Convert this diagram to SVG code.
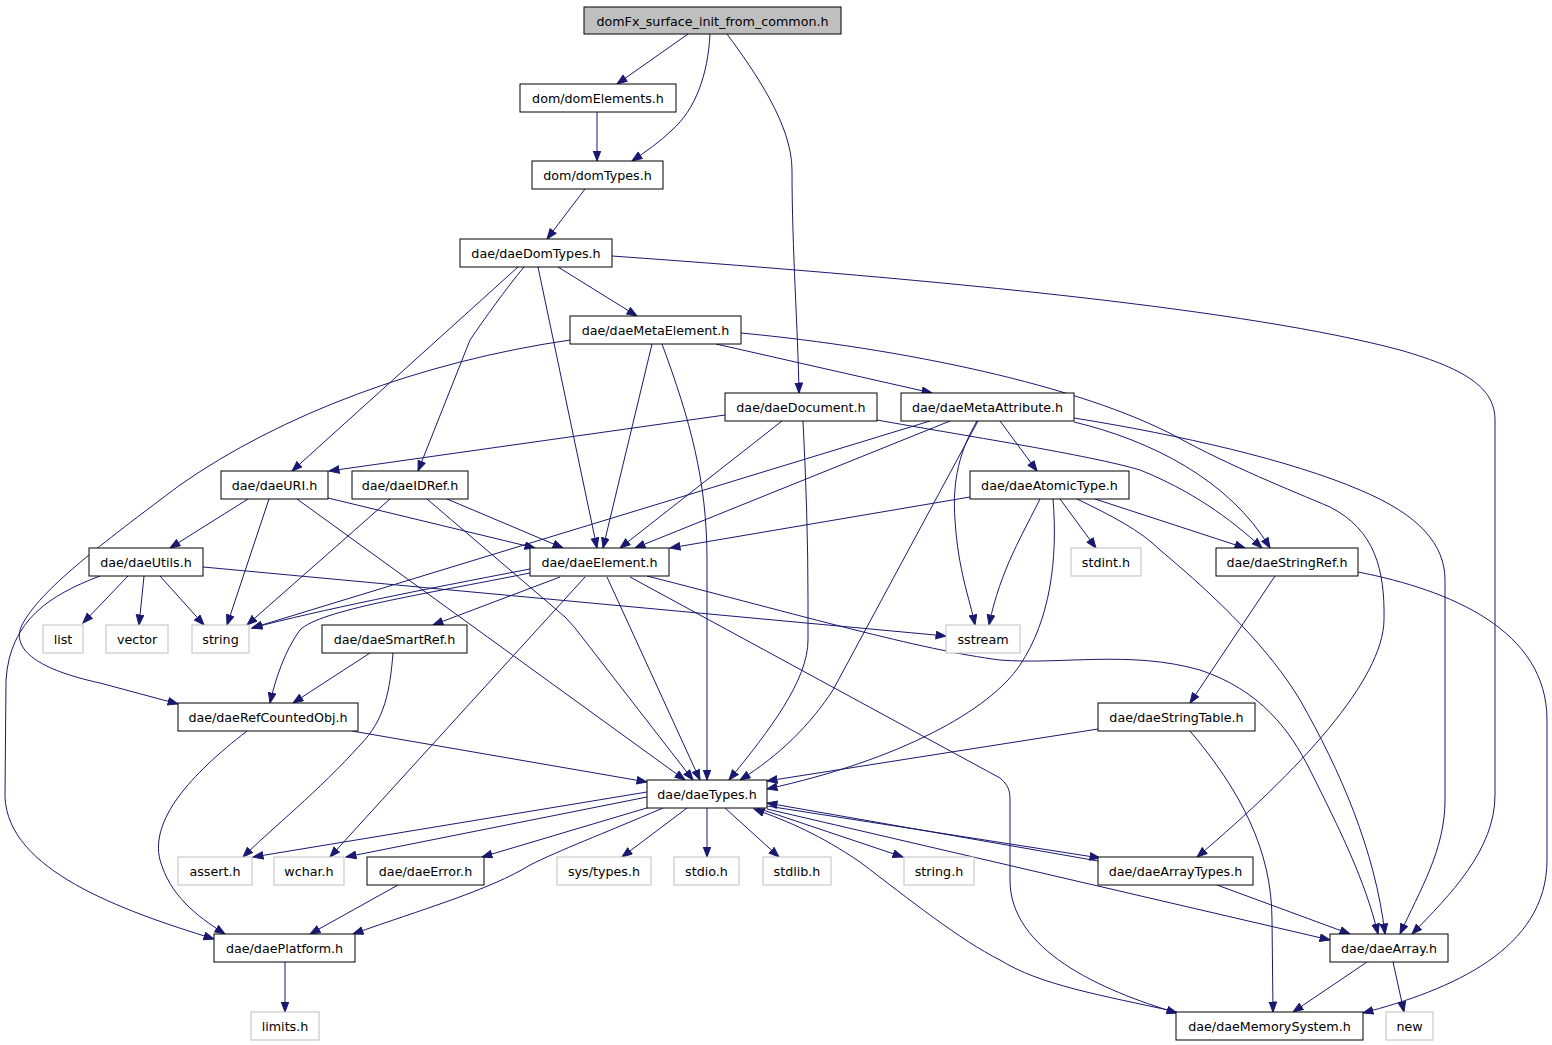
<svg xmlns="http://www.w3.org/2000/svg" width="1552" height="1045" viewBox="0 0 1552 1045">
<defs>
<marker id="a" markerUnits="userSpaceOnUse" markerWidth="12" markerHeight="10" refX="10.5" refY="4.25" orient="auto">
<path d="M0.5,0.5 L10.5,4.25 L0.5,8 z" fill="#191970" stroke="#191970" stroke-width="1"/>
</marker>
</defs>
<style>
.n rect{fill:#fff;stroke:#000;stroke-width:1}
.s rect{fill:#fff;stroke:#bfbfbf;stroke-width:1}
.r rect{fill:#bfbfbf;stroke:#000;stroke-width:1}
text{font-family:"DejaVu Sans","Liberation Sans",sans-serif;font-size:12.7px;fill:#000;text-anchor:middle}
#edges path{fill:none;stroke:#191970;stroke-width:1;marker-end:url(#a)}
</style>
<rect width="1552" height="1045" fill="#fff"/>
<g id="edges">
<path d="M688,34 L617,84"/>
<path d="M710,34 C708,75 695,110 672,130 C660,142 645,152 632,161"/>
<path d="M727,34 C755,72 792,125 792,170 C792,250 798,330 799,393"/>
<path d="M597,112 L597,161"/>
<path d="M585,189 L547,239"/>
<path d="M558,267 L637,316"/>
<path d="M538,267 L597,548"/>
<path d="M518,267 L292,471"/>
<path d="M524,267 C505,290 485,318 470,340 L418,471"/>
<path d="M612,256 C950,280 1250,310 1400,350 C1470,370 1495,390 1495,420 L1495,795 C1495,850 1450,895 1412,934"/>
<path d="M570,340 C420,362 280,415 180,485 C100,545 40,590 22,625 C10,650 40,670 100,683 L178,704"/>
<path d="M652,344 L603,548"/>
<path d="M662,344 C690,420 707,480 707,560 L707,780"/>
<path d="M716,344 L932,393"/>
<path d="M741,333 C900,348 1080,385 1177,437 C1230,466 1290,490 1330,507 C1375,530 1385,570 1384,620 C1383,680 1300,770 1197,857"/>
<path d="M725,415 L329,471"/>
<path d="M782,421 L620,548"/>
<path d="M803,421 C806,480 808,540 808,600 L808,640 C808,680 770,730 729,780"/>
<path d="M877,420 C960,435 1090,455 1140,470 C1190,490 1230,518 1262,548"/>
<path d="M1000,421 L1037,471"/>
<path d="M1074,422 C1150,440 1230,480 1270,548"/>
<path d="M1074,418 C1180,435 1290,460 1360,490 C1420,515 1445,545 1445,580 L1445,800 C1445,850 1420,890 1400,934"/>
<path d="M977,421 C960,450 952,480 955,520 C958,570 970,600 975,625"/>
<path d="M978,421 L833,690 C810,725 780,755 740,780"/>
<path d="M950,421 L635,548"/>
<path d="M930,421 L252,628"/>
<path d="M970,497 L670,548"/>
<path d="M1040,499 C1025,530 1000,570 989,625"/>
<path d="M1053,499 C1058,560 1050,620 1020,665 C990,710 900,760 767,789"/>
<path d="M1060,499 L1096,548"/>
<path d="M1077,499 C1110,515 1140,530 1160,550 C1220,600 1270,650 1300,700 C1340,770 1375,850 1385,934"/>
<path d="M1095,499 L1245,548"/>
<path d="M1275,576 L1190,703"/>
<path d="M1358,572 C1450,590 1547,630 1547,720 L1547,860 C1547,950 1450,990 1363,1013"/>
<path d="M1098,729 L767,781"/>
<path d="M1190,731 C1240,790 1272,850 1272,920 L1273,1012"/>
<path d="M530,569 C420,590 320,610 252,628"/>
<path d="M530,573 C420,595 320,610 300,630 C285,650 275,680 270,703"/>
<path d="M560,577 L433,625"/>
<path d="M585,577 L330,857"/>
<path d="M607,577 L700,780"/>
<path d="M630,577 L1000,778 C1008,785 1010,790 1010,800 L1010,880 C1010,950 1100,990 1177,1013"/>
<path d="M647,576 C800,615 920,650 1000,660 C1060,665 1130,650 1200,670 C1260,690 1290,730 1310,770 C1340,830 1365,880 1378,934"/>
<path d="M248,499 L170,548"/>
<path d="M269,499 L227,625"/>
<path d="M297,499 L685,780"/>
<path d="M328,498 L535,548"/>
<path d="M390,499 L247,625"/>
<path d="M447,499 L563,548"/>
<path d="M427,499 L565,617 Q575,627 582,637 L693,780"/>
<path d="M128,576 L83,623"/>
<path d="M144,576 L139,625"/>
<path d="M160,576 L204,625"/>
<path d="M203,567 L946,636"/>
<path d="M100,576 C50,595 10,620 6,680 L5,797 C8,870 120,910 214,939"/>
<path d="M370,653 L293,703"/>
<path d="M393,653 C390,690 385,720 360,745 C320,790 270,830 243,857"/>
<path d="M352,731 L647,782"/>
<path d="M247,731 C190,775 150,820 160,860 C170,895 195,915 225,934"/>
<path d="M647,792 L253,857"/>
<path d="M647,797 L346,857"/>
<path d="M650,807 L482,857"/>
<path d="M663,808 C600,835 560,850 530,865 C490,890 420,910 353,934"/>
<path d="M687,808 L622,857"/>
<path d="M707,808 L707,857"/>
<path d="M725,808 L779,857"/>
<path d="M757,808 L903,857"/>
<path d="M767,806 L1100,858"/>
<path d="M1098,861 L767,803"/>
<path d="M767,809 L1330,940"/>
<path d="M1177,1012 C1100,995 1040,985 1000,960 C960,940 910,900 860,862 C820,835 790,822 754,809"/>
<path d="M1217,885 L1350,934"/>
<path d="M1367,962 L1293,1012"/>
<path d="M1393,962 L1404,1012"/>
<path d="M398,885 L310,934"/>
<path d="M285,962 L285,1012"/>
</g>
<g id="n_root" class="r"><rect x="584" y="7" width="257" height="27"/><text x="712.5" y="25.5">domFx_surface_init_from_common.h</text></g>
<g id="n_domElements" class="n"><rect x="520" y="84" width="156" height="28"/><text x="598" y="102.5">dom/domElements.h</text></g>
<g id="n_domTypes" class="n"><rect x="532" y="161" width="131" height="28"/><text x="597.5" y="179.5">dom/domTypes.h</text></g>
<g id="n_daeDomTypes" class="n"><rect x="460" y="239" width="152" height="28"/><text x="536" y="257.5">dae/daeDomTypes.h</text></g>
<g id="n_daeMetaElement" class="n"><rect x="570" y="316" width="171" height="28"/><text x="655.5" y="334.5">dae/daeMetaElement.h</text></g>
<g id="n_daeDocument" class="n"><rect x="725" y="393" width="152" height="28"/><text x="801" y="411.5">dae/daeDocument.h</text></g>
<g id="n_daeMetaAttribute" class="n"><rect x="901" y="393" width="173" height="28"/><text x="987.5" y="411.5">dae/daeMetaAttribute.h</text></g>
<g id="n_daeURI" class="n"><rect x="221" y="471" width="107" height="28"/><text x="274.5" y="489.5">dae/daeURI.h</text></g>
<g id="n_daeIDRef" class="n"><rect x="352" y="471" width="116" height="28"/><text x="410" y="489.5">dae/daeIDRef.h</text></g>
<g id="n_daeAtomicType" class="n"><rect x="970" y="471" width="159" height="28"/><text x="1049.5" y="489.5">dae/daeAtomicType.h</text></g>
<g id="n_daeUtils" class="n"><rect x="89" y="548" width="114" height="28"/><text x="146" y="566.5">dae/daeUtils.h</text></g>
<g id="n_daeElement" class="n"><rect x="530" y="548" width="139" height="28"/><text x="599.5" y="566.5">dae/daeElement.h</text></g>
<g id="n_stdint" class="s"><rect x="1071" y="548" width="70" height="28"/><text x="1106" y="566.5">stdint.h</text></g>
<g id="n_daeStringRef" class="n"><rect x="1216" y="548" width="142" height="28"/><text x="1287" y="566.5">dae/daeStringRef.h</text></g>
<g id="n_list" class="s"><rect x="43" y="625" width="40" height="28"/><text x="63" y="643.5">list</text></g>
<g id="n_vector" class="s"><rect x="106" y="625" width="62" height="28"/><text x="137" y="643.5">vector</text></g>
<g id="n_string" class="s"><rect x="192" y="625" width="57" height="28"/><text x="220.5" y="643.5">string</text></g>
<g id="n_daeSmartRef" class="n"><rect x="322" y="625" width="145" height="28"/><text x="394.5" y="643.5">dae/daeSmartRef.h</text></g>
<g id="n_sstream" class="s"><rect x="946" y="625" width="74" height="28"/><text x="983" y="643.5">sstream</text></g>
<g id="n_daeRefCountedObj" class="n"><rect x="178" y="703" width="180" height="28"/><text x="268" y="721.5">dae/daeRefCountedObj.h</text></g>
<g id="n_daeStringTable" class="n"><rect x="1098" y="703" width="157" height="28"/><text x="1176.5" y="721.5">dae/daeStringTable.h</text></g>
<g id="n_daeTypes" class="n"><rect x="647" y="780" width="120" height="28"/><text x="707" y="798.5">dae/daeTypes.h</text></g>
<g id="n_assert" class="s"><rect x="178" y="857" width="74" height="28"/><text x="215" y="875.5">assert.h</text></g>
<g id="n_wchar" class="s"><rect x="274" y="857" width="70" height="28"/><text x="309" y="875.5">wchar.h</text></g>
<g id="n_daeError" class="n"><rect x="367" y="857" width="117" height="28"/><text x="425.5" y="875.5">dae/daeError.h</text></g>
<g id="n_systypes" class="s"><rect x="557" y="857" width="94" height="28"/><text x="604" y="875.5">sys/types.h</text></g>
<g id="n_stdio" class="s"><rect x="674" y="857" width="65" height="28"/><text x="706.5" y="875.5">stdio.h</text></g>
<g id="n_stdlib" class="s"><rect x="763" y="857" width="68" height="28"/><text x="797" y="875.5">stdlib.h</text></g>
<g id="n_stringh" class="s"><rect x="904" y="857" width="70" height="28"/><text x="939" y="875.5">string.h</text></g>
<g id="n_daeArrayTypes" class="n"><rect x="1098" y="857" width="155" height="28"/><text x="1175.5" y="875.5">dae/daeArrayTypes.h</text></g>
<g id="n_daePlatform" class="n"><rect x="214" y="934" width="141" height="28"/><text x="284.5" y="952.5">dae/daePlatform.h</text></g>
<g id="n_daeArray" class="n"><rect x="1330" y="934" width="118" height="28"/><text x="1389" y="952.5">dae/daeArray.h</text></g>
<g id="n_limits" class="s"><rect x="251" y="1012" width="68" height="28"/><text x="285" y="1030.5">limits.h</text></g>
<g id="n_daeMemorySystem" class="n"><rect x="1176" y="1012" width="187" height="28"/><text x="1269.5" y="1030.5">dae/daeMemorySystem.h</text></g>
<g id="n_new" class="s"><rect x="1386" y="1012" width="47" height="28"/><text x="1409.5" y="1030.5">new</text></g>
</svg>
